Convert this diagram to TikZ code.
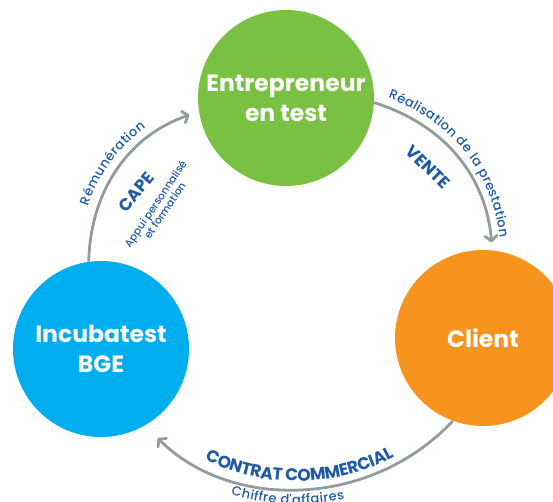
\documentclass[tikz,border=0pt]{standalone}
\usepackage{fontspec}
\setmainfont{Poppins}
\newfontfamily\medfont{Poppins Medium}
\usetikzlibrary{arrows.meta}
\usetikzlibrary{decorations.text}
\definecolor{entgreen}{HTML}{7AC143}
\definecolor{incblue}{HTML}{00AEEF}
\definecolor{cliorange}{HTML}{F7941D}
\definecolor{arcgray}{HTML}{939B9B}
\definecolor{txtblue}{HTML}{1F5AA6}
\newcommand\lblfont{\color{txtblue}\medfont\fontsize{13}{15}\selectfont}
\newcommand\keyfont{\color{txtblue}\bfseries\fontsize{17}{20}\selectfont}

\begin{document}
\begin{tikzpicture}[x=1pt,y=1pt,
    bubble/.style={circle,minimum size=176pt,inner sep=0pt,text=white,align=center,font=\bfseries\fontsize{23.5}{30}\selectfont},
    conn/.style={draw=arcgray,line width=2.8pt,-{Straight Barb[round,length=5pt,width=12pt]}},
    keylbl/.style={text=txtblue,font=\bfseries\fontsize{17}{20}\selectfont,inner sep=0pt},
    sublbl/.style={text=txtblue,font=\medfont\fontsize{10.5}{11.5}\selectfont,align=center,inner sep=0pt}]

    \clip (0,0) rectangle (553,501);

    \node[bubble,fill=entgreen]   (ent) at (286,403) {Entrepreneur\\en test};
    \node[bubble,fill=incblue]    (inc) at (101,152) {Incubatest\\BGE};
    \node[bubble,fill=cliorange]  (cli) at (483,163) {Client};

    \draw[conn,shorten >=10pt] (inc.98) to[bend left=35] (ent.189);
    \draw[conn,shorten >=8pt]  (ent.-3) to[bend left=34] (cli.84);
    \draw[conn,shorten >=18pt] (cli.250) to[bend left=46] (inc.-60);

    \path[decorate,decoration={text along path,text align=center,raise=10pt,
        text={|\lblfont|Rémunération}}] (inc.98) to[bend left=35] (ent.189);
    \path[decorate,decoration={text along path,text align=center,raise=9pt,
        text={|\lblfont|Réalisation de la prestation}}] (ent.-3) to[bend left=34] (cli.84);
    \path[decorate,decoration={text along path,text align=center,raise=7pt,
        text={|\keyfont|CONTRAT COMMERCIAL}}] (inc.-60) to[bend right=46] (cli.250);
    \path[decorate,decoration={text along path,text align={align=center,right indent=24pt},raise=-16pt,
        text={|\lblfont|Chiffre d'affaires}}] (inc.-60) to[bend right=46] (cli.250);

    \node[keylbl,rotate=50]  (cape)  at (136,309) {CAPE};
    \node[sublbl,rotate=56]  (appui) at (160,294) {Appui personnalisé\\et formation};
    \node[keylbl,rotate=-45] (vente) at (428,334) {VENTE};
  \end{tikzpicture}
\end{document}
